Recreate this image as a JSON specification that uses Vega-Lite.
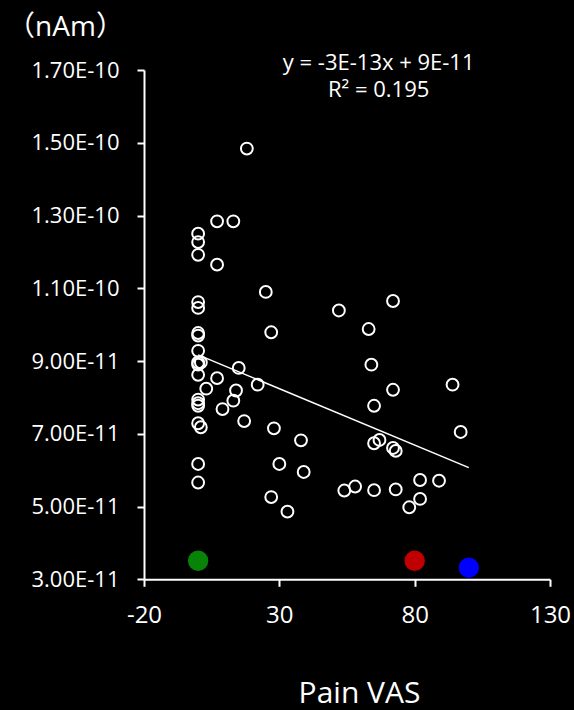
{
  "$schema": "https://vega.github.io/schema/vega-lite/v6.json",
  "width": 406,
  "height": 509.3,
  "autosize": {"type": "none"},
  "padding": {"left": 144, "top": 70, "right": 24, "bottom": 130.7},
  "background": "black",
  "config": {
    "view": {"stroke": null},
    "font": "Open Sans",
    "axis": {
      "domainColor": "white",
      "tickColor": "white",
      "labelColor": "white",
      "titleColor": "white",
      "grid": false,
      "domainWidth": 2,
      "tickWidth": 2,
      "labelFont": "Open Sans",
      "labelFlush": false,
      "titleFontWeight": "normal"
    }
  },
  "datasets": {
    "circles": [
      {"vas": 18, "nam": 1.484e-10},
      {"vas": 7, "nam": 1.284e-10},
      {"vas": 13, "nam": 1.284e-10},
      {"vas": 0, "nam": 1.250e-10},
      {"vas": 0, "nam": 1.227e-10},
      {"vas": 0, "nam": 1.192e-10},
      {"vas": 7, "nam": 1.165e-10},
      {"vas": 25, "nam": 1.090e-10},
      {"vas": 0, "nam": 1.062e-10},
      {"vas": 0, "nam": 1.046e-10},
      {"vas": 52, "nam": 1.039e-10},
      {"vas": 72, "nam": 1.065e-10},
      {"vas": 63, "nam": 9.88e-11},
      {"vas": 27, "nam": 9.79e-11},
      {"vas": 0, "nam": 9.77e-11},
      {"vas": 0, "nam": 9.70e-11},
      {"vas": 0, "nam": 9.28e-11},
      {"vas": 0, "nam": 8.96e-11},
      {"vas": 1, "nam": 8.96e-11},
      {"vas": 0, "nam": 8.90e-11},
      {"vas": 64, "nam": 8.90e-11},
      {"vas": 15, "nam": 8.81e-11},
      {"vas": 0, "nam": 8.62e-11},
      {"vas": 7, "nam": 8.53e-11},
      {"vas": 22, "nam": 8.35e-11},
      {"vas": 94, "nam": 8.35e-11},
      {"vas": 3, "nam": 8.24e-11},
      {"vas": 14, "nam": 8.19e-11},
      {"vas": 72, "nam": 8.21e-11},
      {"vas": 0, "nam": 7.94e-11},
      {"vas": 13, "nam": 7.91e-11},
      {"vas": 0, "nam": 7.84e-11},
      {"vas": 0, "nam": 7.77e-11},
      {"vas": 65, "nam": 7.77e-11},
      {"vas": 9, "nam": 7.68e-11},
      {"vas": 17, "nam": 7.35e-11},
      {"vas": 0, "nam": 7.29e-11},
      {"vas": 1, "nam": 7.18e-11},
      {"vas": 28, "nam": 7.15e-11},
      {"vas": 97, "nam": 7.05e-11},
      {"vas": 38, "nam": 6.82e-11},
      {"vas": 65, "nam": 6.74e-11},
      {"vas": 67, "nam": 6.83e-11},
      {"vas": 72, "nam": 6.61e-11},
      {"vas": 73, "nam": 6.53e-11},
      {"vas": 0, "nam": 6.17e-11},
      {"vas": 30, "nam": 6.17e-11},
      {"vas": 39, "nam": 5.95e-11},
      {"vas": 0, "nam": 5.66e-11},
      {"vas": 82, "nam": 5.73e-11},
      {"vas": 89, "nam": 5.71e-11},
      {"vas": 54, "nam": 5.44e-11},
      {"vas": 58, "nam": 5.55e-11},
      {"vas": 65, "nam": 5.45e-11},
      {"vas": 73, "nam": 5.47e-11},
      {"vas": 27, "nam": 5.26e-11},
      {"vas": 82, "nam": 5.21e-11},
      {"vas": 78, "nam": 4.98e-11},
      {"vas": 33, "nam": 4.86e-11}
    ],
    "trend": [
      {"vas": 0, "nam": 9.17e-11},
      {"vas": 100, "nam": 6.07e-11}
    ],
    "markers": [
      {"vas": 0, "nam": 3.51e-11, "group": "case 1"},
      {"vas": 80, "nam": 3.51e-11, "group": "case 2"},
      {"vas": 100, "nam": 3.32e-11, "group": "case 3"}
    ],
    "equation": [
      {"line": "y = -3E-13x + 9E-11", "vas": 66.7, "nam": 1.719e-10},
      {"line": "R² = 0.195", "vas": 66.7, "nam": 1.646e-10}
    ]
  },
  "layer": [
    {
      "data": {"name": "circles"},
      "mark": {"type": "point", "shape": "circle", "filled": false, "color": "white", "strokeWidth": 2, "size": 140, "opacity": 1},
      "encoding": {
        "x": {
          "field": "vas",
          "type": "quantitative",
          "scale": {"domain": [-20, 130], "nice": false, "zero": false},
          "axis": {
            "values": [-20, 30, 80, 130],
            "tickSize": 7,
            "labelPadding": 17,
            "labelFontSize": 24,
            "labelExpr": "'' + datum.value",
            "title": "Pain VAS",
            "titleFont": "Open Sans",
            "titleFontSize": 30,
            "titleX": 215,
            "titleY": 114,
            "titleAlign": "center",
            "titleBaseline": "middle"
          }
        },
        "y": {
          "field": "nam",
          "type": "quantitative",
          "scale": {"domain": [3e-11, 1.7e-10], "nice": false, "zero": false},
          "axis": {
            "values": [3e-11, 5e-11, 7e-11, 9e-11, 1.1e-10, 1.3e-10, 1.5e-10, 1.7e-10],
            "tickSize": 7,
            "labelPadding": 18,
            "labelFontSize": 22,
            "labelExpr": "replace(format(datum.value, '.2e'), 'e', 'E')",
            "title": "（nAm）",
            "titleFont": "Open Sans, Noto Sans CJK JP",
            "titleFontSize": 28,
            "titleAngle": 0,
            "titleX": -79,
            "titleY": -43,
            "titleAlign": "center",
            "titleBaseline": "middle"
          }
        }
      }
    },
    {
      "data": {"name": "trend"},
      "mark": {"type": "line", "color": "white", "strokeWidth": 1.5},
      "encoding": {
        "x": {"field": "vas", "type": "quantitative"},
        "y": {"field": "nam", "type": "quantitative"}
      }
    },
    {
      "data": {"name": "markers"},
      "mark": {"type": "circle", "size": 415, "opacity": 1},
      "encoding": {
        "x": {"field": "vas", "type": "quantitative"},
        "y": {"field": "nam", "type": "quantitative"},
        "color": {
          "field": "group",
          "type": "nominal",
          "scale": {"domain": ["case 1", "case 2", "case 3"], "range": ["#078307", "#c00000", "#0000ff"]},
          "legend": null
        }
      }
    },
    {
      "data": {"name": "equation"},
      "mark": {"type": "text", "color": "white", "fontSize": 22, "font": "Open Sans", "align": "center", "baseline": "middle"},
      "encoding": {
        "x": {"field": "vas", "type": "quantitative"},
        "y": {"field": "nam", "type": "quantitative"},
        "text": {"field": "line", "type": "nominal"}
      }
    }
  ]
}
